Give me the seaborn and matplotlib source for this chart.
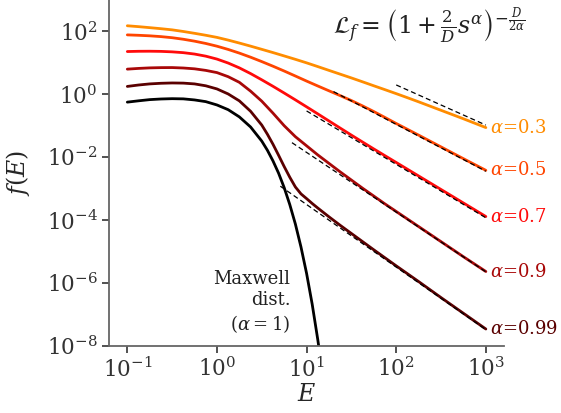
import numpy as np
import pandas as pd
import matplotlib
matplotlib.use("Agg")
import matplotlib.pyplot as plt
import seaborn as sns

# ---- data (log10 E, log10 f) ----
grid = [-1, -0.875, -0.75, -0.625, -0.5, -0.375, -0.25, -0.125, 0, 0.125, 0.25, 0.375, 0.5,
        0.625, 0.75, 0.875, 1, 1.125, 1.25, 1.375, 1.5, 1.625, 1.75, 1.875, 2, 2.125, 2.25,
        2.375, 2.5, 2.625, 2.75, 2.875, 3]

logf_a03 = [2.18, 2.152, 2.12, 2.087, 2.05, 1.998, 1.94, 1.878, 1.81, 1.724, 1.63, 1.532, 1.43,
            1.327, 1.22, 1.112, 1.00, 0.881, 0.76, 0.64, 0.52, 0.396, 0.27, 0.146, 0.02, -0.109,
            -0.24, -0.375, -0.51, -0.645, -0.78, -0.92, -1.06]

logf_a05 = [1.89, 1.877, 1.86, 1.835, 1.80, 1.751, 1.69, 1.617, 1.53, 1.427, 1.31, 1.18, 1.04,
            0.893, 0.74, 0.581, 0.42, 0.264, 0.11, -0.043, -0.20, -0.371, -0.55, -0.739, -0.93,
            -1.115, -1.30, -1.488, -1.675, -1.863, -2.05, -2.235, -2.42]

logf_a07 = [1.36, 1.368, 1.37, 1.365, 1.35, 1.324, 1.28, 1.213, 1.12, 0.994, 0.84, 0.659, 0.46,
            0.254, 0.04, -0.178, -0.40, -0.624, -0.85, -1.076, -1.30, -1.521, -1.74, -1.956,
            -2.17, -2.385, -2.60, -2.815, -3.03, -3.245, -3.46, -3.675, -3.89]

logf_a09 = [0.80, 0.823, 0.84, 0.848, 0.85, 0.836, 0.81, 0.76, 0.69, 0.56, 0.38, 0.10, -0.22,
            -0.60, -1.00, -1.35, -1.64, -1.93, -2.20, -2.47, -2.73, -2.99, -3.24, -3.49, -3.73,
            -3.97, -4.21, -4.45, -4.69, -4.93, -5.17, -5.405, -5.64]

logE_a099 = [-1, -0.875, -0.75, -0.625, -0.5, -0.375, -0.25, -0.125, 0, 0.125, 0.25, 0.375, 0.5,
             0.5625, 0.625, 0.6875, 0.75, 0.8125, 0.875, 0.9375, 1, 1.0625, 1.125, 1.25, 1.375,
             1.5, 1.625, 1.75, 1.875, 2, 2.125, 2.25, 2.375, 2.5, 2.625, 2.75, 2.875, 3]
logf_a099 = [0.25, 0.295, 0.33, 0.35, 0.36, 0.355, 0.33, 0.27, 0.17, 0.01, -0.21, -0.54, -0.98,
             -1.27, -1.59, -1.94, -2.30, -2.64, -2.95, -3.17, -3.32, -3.475, -3.62, -3.90, -4.17,
             -4.43, -4.69, -4.95, -5.205, -5.46, -5.71, -5.96, -6.215, -6.47, -6.72, -6.97,
             -7.22, -7.47]

logE_maxw = [-1, -0.875, -0.75, -0.625, -0.5, -0.375, -0.25, -0.125, 0, 0.125, 0.25, 0.375, 0.5,
             0.5625, 0.625, 0.6875, 0.75, 0.8125, 0.875, 0.9375, 1.0, 1.0625, 1.125, 1.15]
logf_maxw = [-0.25, -0.208, -0.17, -0.15, -0.14, -0.146, -0.18, -0.234, -0.34, -0.49, -0.72,
             -1.04, -1.49, -1.78, -2.12, -2.51, -2.97, -3.51, -4.13, -4.86, -5.70, -6.68, -7.81,
             -8.31]

alpha_labels = ["0.3", "0.5", "0.7", "0.9", "0.99"]
curve_colors = ["#ff8c00", "#ff4500", "#ff0a0a", "#a80808", "#5a0000"]
maxwell_color = "#000000"

# asymptote segments: start/end log10 E and log10 f
asym_logE0 = [2.0, 1.3, 1.0, 0.837, 0.707]
asym_logf0 = [0.297, 0.086, -0.53, -1.54, -2.925]
asym_logE1 = [3.0, 3.0, 3.0, 3.0, 3.0]
asym_logf1 = [-0.98, -2.45, -3.93, -5.65, -7.49]

xticks_log = [-1, 0, 1, 2, 3]
yticks_log = [-8, -6, -4, -2, 0, 2]

# ---- style ----
sns.set_theme(style="ticks")
plt.rcParams["font.family"] = ["DejaVu Serif"]
plt.rcParams["mathtext.fontset"] = "dejavuserif"

fig = plt.figure(figsize=(5.61, 4.13), dpi=100)
ax = fig.add_axes([0.195, 0.163, 0.703, 0.837])

curves = [(grid, logf_a03), (grid, logf_a05), (grid, logf_a07),
          (grid, logf_a09), (logE_a099, logf_a099)]

for (lx, ly), col in zip(curves, curve_colors):
    df = pd.DataFrame({"E": 10.0 ** np.array(lx), "f": 10.0 ** np.array(ly)})
    sns.lineplot(data=df, x="E", y="f", ax=ax, color=col, lw=2, estimator=None)

dfm = pd.DataFrame({"E": 10.0 ** np.array(logE_maxw), "f": 10.0 ** np.array(logf_maxw)})
sns.lineplot(data=dfm, x="E", y="f", ax=ax, color=maxwell_color, lw=2, estimator=None)

for e0, f0, e1, f1 in zip(asym_logE0, asym_logf0, asym_logE1, asym_logf1):
    ax.plot([10 ** e0, 10 ** e1], [10 ** f0, 10 ** f1], ls=(0, (4, 2.5)), color="black",
            lw=0.9, zorder=5)

ax.set_xscale("log")
ax.set_yscale("log")
ax.set_xlim(10 ** -1.2, 10 ** 3.2)
ax.set_ylim(1e-8, 1e3)
ax.set_xticks([10.0 ** v for v in xticks_log])
ax.set_yticks([10.0 ** v for v in yticks_log])
ax.minorticks_off()
ax.tick_params(labelsize=15.5, colors="#333333", length=5, width=1.2)
for s in ["top", "right"]:
    ax.spines[s].set_visible(False)
for s in ["left", "bottom"]:
    ax.spines[s].set_color("#666666")
    ax.spines[s].set_linewidth(1.3)

ax.set_xlabel("$E$", fontsize=17)
ax.set_ylabel("$f(E)$", fontsize=17)
ax.xaxis.set_label_coords(0.5, -0.108)
ax.yaxis.set_label_coords(-0.195, 0.5)

# end labels
for (lx, ly), col, lab in zip(curves, curve_colors, alpha_labels):
    ax.text(10 ** (lx[-1] + 0.05), 10 ** ly[-1], r"$\alpha$=" + lab, color=col,
            fontsize=13, va="center", ha="left", clip_on=False)

ax.text(10 ** 0.82, 10 ** -6.63, "Maxwell\ndist.\n" + r"($\alpha=1$)", fontsize=13,
        ha="right", va="center", multialignment="right", color="#222222", linespacing=1.25)

fig.text(0.765, 0.937,
         r"$\mathcal{L}_f=\left(1+\frac{2}{D}s^{\alpha}\right)^{-\frac{D}{2\alpha}}$",
         fontsize=17, ha="center", va="center", color="#222222")

fig.savefig("out.png", dpi=100)
